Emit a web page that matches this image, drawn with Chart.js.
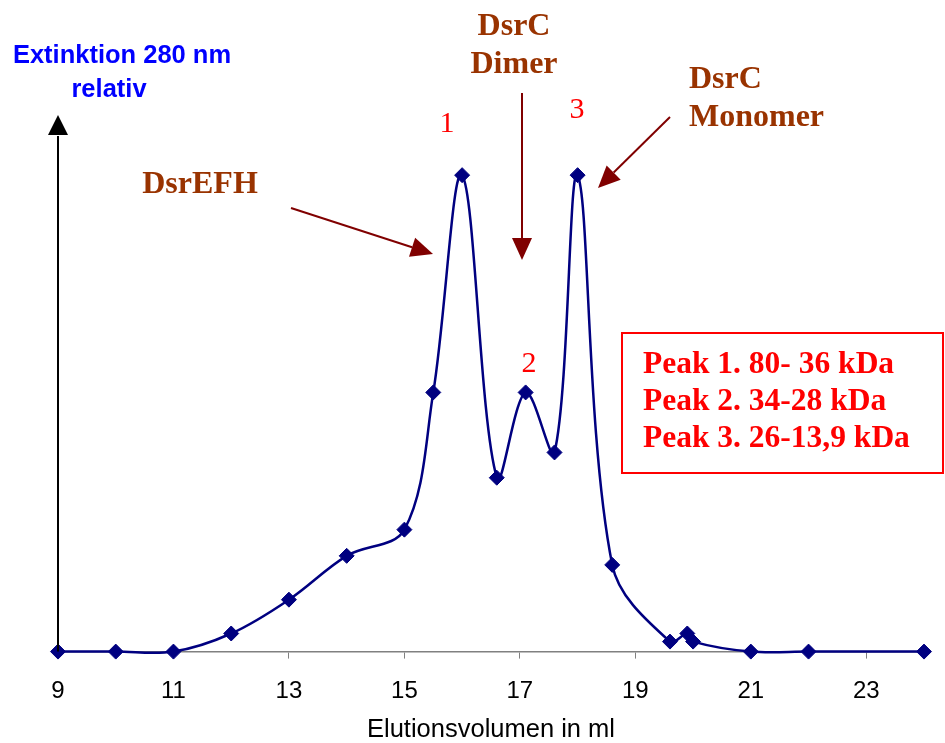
<!DOCTYPE html>
<html>
<head>
<meta charset="utf-8">
<script src="https://cdn.jsdelivr.net/npm/chart.js@4.4.0/dist/chart.umd.min.js"></script>
<style>
  html, body { margin: 0; padding: 0; background: #fff; }
</style>
</head>
<body>
<canvas id="chart" width="945" height="743"></canvas>
<script>
// Gelfiltration run: elution volume (ml) vs. relative extinction at 280 nm
const volume = [9, 10, 11, 12, 13, 14, 15, 15.5, 16, 16.6, 17.1, 17.6, 18, 18.6, 19.6, 19.9, 20, 21, 22, 24]
const extinction = [0, 0, 0, 3.8, 10.9, 20.1, 25.6, 54.4, 100, 36.5, 54.4, 41.8, 100, 18.2, 2.1, 3.8, 2.1, 0, 0, 0]
const xTicks = [9, 11, 13, 15, 17, 19, 21, 23]

const peakTable = ['Peak 1. 80- 36 kDa', 'Peak 2. 34-28 kDa', 'Peak 3. 26-13,9 kDa']

const SANS = '"Liberation Sans", Arial, sans-serif'
const SERIF = '"Liberation Serif", "Times New Roman", serif'
const NAVY = '#000080'
const BROWN = '#993300'
const DARKRED = '#800000'
const RED = '#ff0000'

// labels around the plot: [text, x, y, font, colour, align]
const labels = [
  ['Extinktion 280 nm', 122, 63, `bold 25.5px ${SANS}`, '#0000ff', 'center'],
  ['relativ', 109, 97, `bold 25.5px ${SANS}`, '#0000ff', 'center'],
  ['DsrEFH', 200, 193, `bold 32px ${SERIF}`, BROWN, 'center'],
  ['DsrC', 514, 35, `bold 32px ${SERIF}`, BROWN, 'center'],
  ['Dimer', 514, 73, `bold 32px ${SERIF}`, BROWN, 'center'],
  ['DsrC', 689, 88, `bold 32px ${SERIF}`, BROWN, 'left'],
  ['Monomer', 689, 126, `bold 32px ${SERIF}`, BROWN, 'left'],
  ['1', 447, 132, `30px ${SERIF}`, RED, 'center'],
  ['2', 529, 372, `30px ${SERIF}`, RED, 'center'],
  ['3', 577, 118, `30px ${SERIF}`, RED, 'center'],
]

// pointer arrows: [x1, y1, tipX, tipY]
const pointers = [
  [291, 208, 433, 254],
  [522, 93, 522, 260],
  [670, 117, 598, 188],
]

function drawArrow(ctx, x1, y1, x2, y2) {
  const ang = Math.atan2(y2 - y1, x2 - x1)
  const len = 22, half = 10
  const bx = x2 - Math.cos(ang) * len
  const by = y2 - Math.sin(ang) * len
  ctx.strokeStyle = DARKRED
  ctx.fillStyle = DARKRED
  ctx.lineWidth = 2
  ctx.beginPath()
  ctx.moveTo(x1, y1)
  ctx.lineTo(bx, by)
  ctx.stroke()
  ctx.beginPath()
  ctx.moveTo(x2, y2)
  ctx.lineTo(bx - Math.sin(ang) * half, by + Math.cos(ang) * half)
  ctx.lineTo(bx + Math.sin(ang) * half, by - Math.cos(ang) * half)
  ctx.closePath()
  ctx.fill()
}

const decorations = {
  id: 'decorations',
  afterDraw(chart) {
    const ctx = chart.ctx
    const area = chart.chartArea
    const x0 = chart.scales.x.getPixelForValue(volume[0])
    const y0 = chart.scales.y.getPixelForValue(0)
    ctx.save()

    // y axis drawn as an upward arrow
    ctx.strokeStyle = '#000'
    ctx.fillStyle = '#000'
    ctx.lineWidth = 2
    ctx.beginPath()
    ctx.moveTo(x0, y0)
    ctx.lineTo(x0, area.top + 18)
    ctx.stroke()
    ctx.beginPath()
    ctx.moveTo(x0, area.top - 3)
    ctx.lineTo(x0 - 10, area.top + 17)
    ctx.lineTo(x0 + 10, area.top + 17)
    ctx.closePath()
    ctx.fill()

    pointers.forEach(p => drawArrow(ctx, ...p))

    ctx.textBaseline = 'alphabetic'
    labels.forEach(([text, x, y, font, colour, align]) => {
      ctx.font = font
      ctx.fillStyle = colour
      ctx.textAlign = align
      ctx.fillText(text, x, y)
    })

    // molecular weight box
    ctx.strokeStyle = RED
    ctx.lineWidth = 2
    ctx.strokeRect(622, 333, 321, 140)
    ctx.font = `bold 31.5px ${SERIF}`
    ctx.fillStyle = RED
    ctx.textAlign = 'left'
    peakTable.forEach((line, i) => ctx.fillText(line, 643, 373 + i * 37))
    ctx.restore()
  }
}

new Chart(document.getElementById('chart'), {
  type: 'line',
  data: {
    datasets: [{
      data: volume.map((v, i) => ({ x: v, y: extinction[i] })),
      borderColor: NAVY,
      borderWidth: 2.5,
      backgroundColor: NAVY,
      pointBackgroundColor: NAVY,
      pointBorderColor: NAVY,
      pointStyle: 'rectRot',
      pointRadius: 7.5,
      pointBorderWidth: 1,
      tension: 0.35,
      fill: false,
      clip: false,
    }]
  },
  options: {
    responsive: false,
    animation: false,
    devicePixelRatio: 1,
    layout: { padding: { left: 58, right: 21, top: 118, bottom: 0.6 } },
    elements: { line: { capBezierPoints: false } },
    plugins: { legend: { display: false }, tooltip: { enabled: false } },
    scales: {
      x: {
        type: 'linear',
        min: 9,
        max: 24,
        afterBuildTicks: s => { s.ticks = xTicks.map(v => ({ value: v })) },
        ticks: {
          autoSkip: false,
          maxRotation: 0,
          padding: 18,
          color: '#000',
          font: { family: SANS, size: 24 },
        },
        grid: { drawOnChartArea: false, tickLength: 7, color: '#808080' },
        border: { color: '#808080', width: 1.5 },
        title: {
          display: true,
          text: 'Elutionsvolumen in ml',
          color: '#000',
          font: { family: SANS, size: 25.5, lineHeight: 1 },
          padding: { top: -6.5, bottom: 0 },
        },
      },
      y: { display: false, min: 0, max: 112 },
    },
  },
  plugins: [decorations],
})
</script>
</body>
</html>
